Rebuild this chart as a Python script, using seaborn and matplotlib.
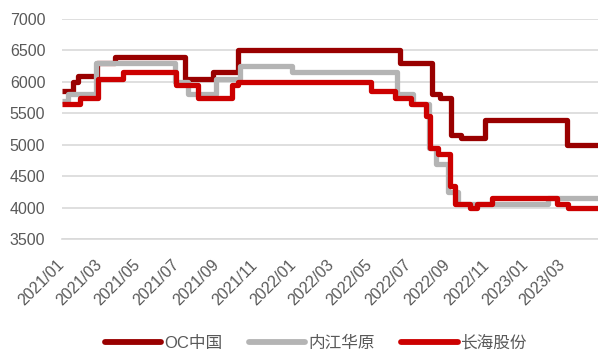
import matplotlib
matplotlib.use('Agg')
import matplotlib.pyplot as plt
import matplotlib.dates as mdates
import pandas as pd
import seaborn as sns

# 三个公司价格（阶梯变化），读图估计
oc_dates = ['2021-01-01', '2021-01-18', '2021-01-26', '2021-02-25', '2021-03-25', '2021-07-13',
            '2021-08-27', '2021-10-05', '2022-06-18', '2022-08-06', '2022-08-19', '2022-09-05',
            '2022-09-22', '2022-10-29', '2023-03-07', '2023-04-25']
oc_vals = [5850, 6000, 6100, 6300, 6400, 6050, 6150, 6500, 6300, 5800, 5750, 5150,
           5100, 5400, 5000, 5000]

nj_dates = ['2021-01-01', '2021-01-10', '2021-02-24', '2021-06-28', '2021-07-19', '2021-09-01',
            '2021-10-08', '2021-12-29', '2022-06-13', '2022-07-08', '2022-08-02', '2022-08-13',
            '2022-09-01', '2022-09-17', '2023-02-05', '2023-04-25']
nj_vals = [5700, 5800, 6300, 6000, 5800, 6050, 6250, 6150, 5800, 5650, 4950, 4700,
           4250, 4050, 4150, 4150]

ch_dates = ['2021-01-01', '2021-01-29', '2021-02-26', '2021-04-07', '2021-06-30', '2021-08-03',
            '2021-09-25', '2021-10-05', '2022-05-02', '2022-06-09', '2022-07-05', '2022-07-28',
            '2022-08-04', '2022-08-16', '2022-09-04', '2022-09-12', '2022-10-05', '2022-10-16',
            '2022-11-09', '2023-02-19', '2023-03-09', '2023-04-25']
ch_vals = [5650, 5750, 6050, 6150, 5950, 5750, 5950, 6000, 5850, 5750, 5650, 5450,
           4950, 4850, 4350, 4050, 4000, 4050, 4150, 4050, 4000, 4000]

names = ['OC中国', '内江华原', '长海股份']
palette = {'OC中国': '#990000', '内江华原': '#B4B4B4', '长海股份': '#CC0000'}

df = pd.concat([
    pd.DataFrame({'date': pd.to_datetime(oc_dates), 'price': oc_vals, 'name': names[0]}),
    pd.DataFrame({'date': pd.to_datetime(nj_dates), 'price': nj_vals, 'name': names[1]}),
    pd.DataFrame({'date': pd.to_datetime(ch_dates), 'price': ch_vals, 'name': names[2]}),
], ignore_index=True)

sns.set_style('white')
plt.rcParams['font.family'] = ['Liberation Sans', 'Noto Sans CJK SC', 'DejaVu Sans']

fig = plt.figure(figsize=(5.98, 3.51), dpi=100)
ax = fig.add_axes([62 / 598, 1 - 239 / 351, 536 / 598, 220 / 351])

sns.lineplot(data=df, x='date', y='price', hue='name', hue_order=names, palette=palette,
             drawstyle='steps-post', linewidth=3.8, ax=ax,
             solid_joinstyle='round', solid_capstyle='butt')

ax.set_xlim(pd.Timestamp('2021-01-01'), pd.Timestamp('2023-04-25'))
ax.set_ylim(3500, 7000)
ax.set_yticks(range(3500, 7001, 500))
ax.xaxis.set_major_locator(mdates.MonthLocator(bymonth=[1, 3, 5, 7, 9, 11]))
ax.xaxis.set_major_formatter(mdates.DateFormatter('%Y/%m'))

ax.set_xlabel('')
ax.set_ylabel('')
ax.grid(axis='y', color='#D9D9D9', linewidth=1.2)
ax.set_axisbelow(True)
for s in ['top', 'right', 'left']:
    ax.spines[s].set_visible(False)
ax.spines['bottom'].set_color('#D9D9D9')
ax.spines['bottom'].set_linewidth(1.2)

ax.tick_params(axis='y', length=0, pad=12, labelsize=11.5, labelcolor='#595959')
ax.tick_params(axis='x', length=4, width=1.2, color='#D9D9D9', pad=13,
               labelsize=11.5, labelcolor='#595959')
for lab in ax.get_xticklabels():
    lab.set_rotation(45)
    lab.set_ha('right')
    lab.set_va('center')
    lab.set_rotation_mode('anchor')

handles, labels = ax.get_legend_handles_labels()
ax.get_legend().remove()
for h in handles:
    h.set_linewidth(4.2)
    h.set_solid_capstyle('round')
fig.legend(handles, labels, loc='center', bbox_to_anchor=(0.528, 1 - 343 / 351), ncol=3,
           frameon=False, fontsize=12, handlelength=3.4, handletextpad=0.15,
           columnspacing=1.6, labelcolor='#595959')

fig.savefig('out.png', dpi=100)
